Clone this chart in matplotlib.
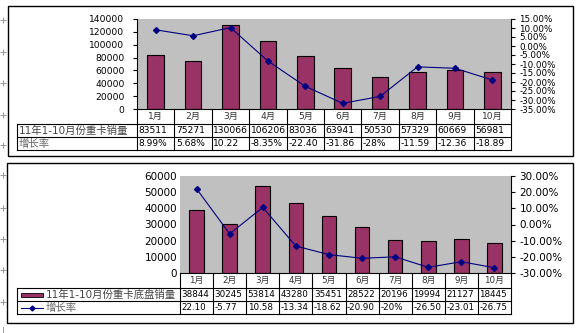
import matplotlib
matplotlib.use("Agg")
import matplotlib.pyplot as plt
from matplotlib.patches import Rectangle
from matplotlib.lines import Line2D

W, H = 583, 333

# ── data ──────────────────────────────────────────────────────────────
months = ["1月", "2月", "3月", "4月", "5月", "6月", "7月", "8月", "9月", "10月"]

truck_sales = [83511, 75271, 130066, 106206, 83036, 63941, 50530, 57329, 60669, 56981]
truck_growth = [8.99, 5.68, 10.22, -8.35, -22.40, -31.86, -28.0, -11.59, -12.36, -18.89]
truck_growth_text = ["8.99%", "5.68%", "10.22", "-8.35%", "-22.40", "-31.86", "-28%",
                     "-11.59", "-12.36", "-18.89"]

chassis_sales = [38844, 30245, 53814, 43280, 35451, 28522, 20196, 19994, 21127, 18445]
chassis_growth = [22.10, -5.77, 10.58, -13.34, -18.62, -20.90, -20.0, -26.50, -23.01, -26.75]
chassis_growth_text = ["22.10", "-5.77", "10.58", "-13.34", "-18.62", "-20.90", "-20%",
                       "-26.50", "-23.01", "-26.75"]

truck_label = "11年1-10月份重卡销量"
chassis_label = "11年1-10月份重卡底盘销量"
growth_label = "增长率"

BAR = "#993366"
LINE = "#000080"
BG = "#C0C0C0"
CJK = ["DejaVu Sans", "Noto Sans CJK SC"]

fig = plt.figure(figsize=(W / 100, H / 100), dpi=100)
fig.patch.set_facecolor("white")

# pixel canvas for borders / table
cv = fig.add_axes([0, 0, 1, 1], zorder=5)
cv.set_xlim(0, W); cv.set_ylim(H, 0)
cv.axis("off")
cv.patch.set_alpha(0)


def px_axes(l, t, r, b):
    return fig.add_axes([l / W, 1 - b / H, (r - l) / W, (b - t) / H])


def hline(x0, x1, y, lw=0.8):
    cv.add_line(Line2D([x0, x1], [y, y], color="black", lw=lw))


def vline(x, y0, y1, lw=0.8):
    cv.add_line(Line2D([x, x], [y0, y1], color="black", lw=lw))


def panel(box, plot, rows, sales, growth, growth_text, ylim, yticks, pylim, pticks,
          label, tfs, afs, pfs, left_spine, legend):
    bl, bt, br, bb = box
    cv.add_patch(Rectangle((bl, bt), br - bl, bb - bt, fill=False, lw=1.0, ec="black"))

    pl, pt, pr, pb = plot
    ax = px_axes(pl, pt, pr, pb)
    ax.set_facecolor(BG)
    x = list(range(len(sales)))
    ax.bar(x, sales, width=0.44, color=BAR, edgecolor="black", lw=0.8, zorder=2)
    ax.set_xlim(-0.5, len(sales) - 0.5)
    ax.set_ylim(*ylim)
    ax.set_yticks(yticks)
    ax.set_yticklabels([str(v) for v in yticks], fontsize=afs)
    ax.set_xticks([])
    for s in ["top", "right", "bottom"]:
        ax.spines[s].set_visible(False)
    if left_spine:
        ax.spines["left"].set_linewidth(0.8)
        ax.tick_params(axis="y", length=3, width=0.8, pad=6)
    else:
        ax.spines["left"].set_visible(False)
        ax.tick_params(axis="y", length=0, pad=2)

    ax2 = ax.twinx()
    ax2.plot(x, growth, color=LINE, lw=0.8, marker="D", ms=3, zorder=3)
    ax2.set_ylim(*pylim)
    ax2.set_yticks(pticks)
    ax2.set_yticklabels([f"{v:.2f}%" for v in pticks], fontsize=pfs)
    ax2.tick_params(axis="y", length=3, width=0.8, pad=3)
    for s in ["top", "left", "bottom"]:
        ax2.spines[s].set_visible(False)
    ax2.spines["right"].set_linewidth(0.8)

    # table
    tl = rows[0]
    y0, y1, y2, y3 = rows[1:]
    n = len(sales)
    cw = (pr - pl) / n
    hline(pl, pr, y0)
    hline(tl, pr, y1)
    hline(tl, pr, y2)
    hline(tl, pr, y3)
    vline(tl, y1, y3)
    for i in range(n + 1):
        vline(pl + i * cw, y0, y3)
    for i in range(n):
        cx = pl + (i + 0.5) * cw
        cv.text(cx, (y0 + y1) / 2, months[i], ha="center", va="center",
                fontsize=tfs, family=CJK, color="#333333")
        cv.text(pl + i * cw + 1.5, (y1 + y2) / 2, str(sales[i]), ha="left", va="center",
                fontsize=tfs, family=CJK, color="black")
        cv.text(pl + i * cw + 1.5, (y2 + y3) / 2, growth_text[i], ha="left", va="center",
                fontsize=tfs, family=CJK, color="black")
    lx = tl + 2
    if legend:
        ym = (y1 + y2) / 2
        cv.add_patch(Rectangle((tl + 4, ym - 2), 22, 4, fc=BAR, ec="black", lw=0.6))
        ym2 = (y2 + y3) / 2
        cv.plot([tl + 4, tl + 26], [ym2, ym2], color=LINE, lw=0.8)
        cv.plot([tl + 15], [ym2], color=LINE, marker="D", ms=2.5)
        lx = tl + 29
    cv.text(lx, (y1 + y2) / 2, label, ha="left", va="center", fontsize=7.5,
            family=CJK, color="#444444")
    cv.text(lx, (y2 + y3) / 2, growth_label, ha="left", va="center", fontsize=7.5,
            family=CJK, color="#666666")


panel(box=(8, 6, 573, 156), plot=(137, 19, 511, 109), rows=(17, 109, 124, 137, 150),
      sales=truck_sales, growth=truck_growth, growth_text=truck_growth_text,
      ylim=(0, 140000), yticks=list(range(0, 140001, 20000)),
      pylim=(-35, 15), pticks=list(range(-35, 16, 5)),
      label=truck_label, tfs=6.6, afs=6.6, pfs=6.3, left_spine=True, legend=False)

panel(box=(7, 163, 573, 323), plot=(180, 176, 511, 273), rows=(17, 273, 288, 301, 314),
      sales=chassis_sales, growth=chassis_growth, growth_text=chassis_growth_text,
      ylim=(0, 60000), yticks=list(range(0, 60001, 10000)),
      pylim=(-30, 30), pticks=list(range(-30, 31, 10)),
      label=chassis_label, tfs=6.3, afs=7.5, pfs=7.5, left_spine=False, legend=True)

# small anchor marks on the left margin
anchor_rows = [20, 52, 83, 115, 145, 175, 208, 239, 270, 302]
cv.scatter([3] * len(anchor_rows), anchor_rows, marker="+", s=16, color="#999999", lw=0.7)
cv.plot([3, 3], [327, 333], color="#999999", lw=0.7)

fig.savefig("out.png", dpi=100)
